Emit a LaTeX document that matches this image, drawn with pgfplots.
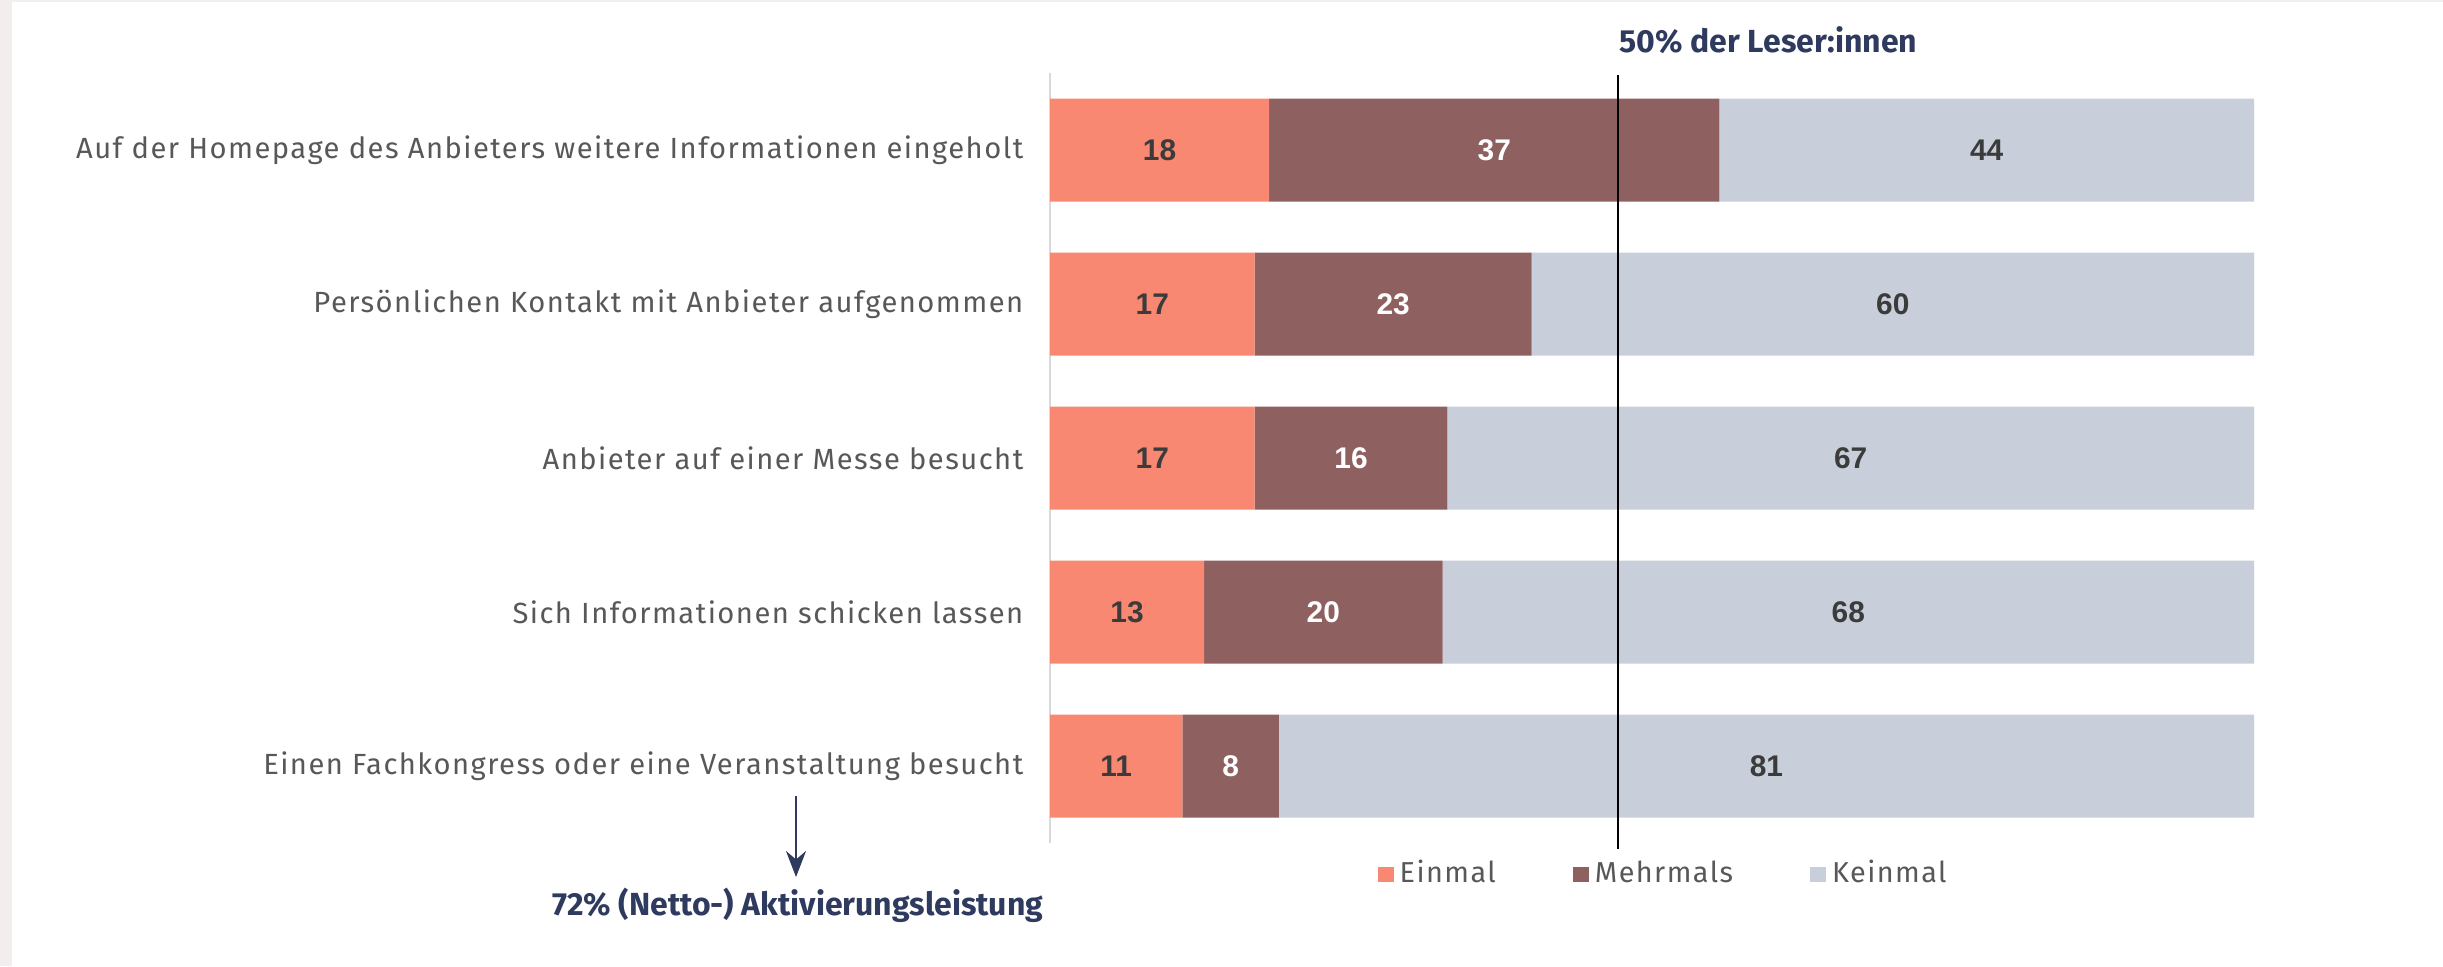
\documentclass[border=0pt]{standalone}
\usepackage{pgfplots}
\pgfplotsset{compat=1.18}
\usepackage{pgfplotstable}
\usetikzlibrary{arrows.meta}
\usepackage{fontspec}
\setmainfont{Fira Sans}
\newfontfamily\labfont[LetterSpace=5]{Fira Sans}
\newfontfamily\numfont{Liberation Sans}
\definecolor{ein}{HTML}{F98872}
\definecolor{mehr}{HTML}{8F6060}
\definecolor{kein}{HTML}{C8CEDA}
\definecolor{txtgray}{HTML}{585858}
\definecolor{navy}{HTML}{2E3A5E}
\definecolor{lbldark}{HTML}{3B3B3B}
\definecolor{axisgray}{HTML}{D9D9D9}
\definecolor{bgstrip}{HTML}{F2EEED}

\pgfplotstableread{
y ein mehr kein lein lmehr lkein
0 18.2 37.4 44.4 18 37 44
1 17 23 60 17 23 60
2 17 16 67 17 16 67
3 12.8 19.8 67.4 13 20 68
4 11 8 81 11 8 81
}\data

\begin{document}
\begin{tikzpicture}
\useasboundingbox (0,0) rectangle (244.3mm,-96.6mm);
\fill[white] (0,0) rectangle (244.3mm,-96.6mm);
\fill[bgstrip] (0,0) rectangle (1.2mm,-96.6mm);
\fill[bgstrip] (0,0) rectangle (244.3mm,-0.2mm);
\begin{axis}[
  at={(105mm,-7.3mm)}, anchor=north west,
  scale only axis, width=120.4mm, height=77mm,
  xbar stacked, bar width=10.3mm,
  xmin=0, xmax=100, ymin=-0.5, ymax=4.5, y dir=reverse,
  axis x line=none, axis y line*=left,
  y axis line style={draw=axisgray, line width=0.2mm, -},
  ytick={0,1,2,3,4},
  yticklabels={Auf der Homepage des Anbieters weitere Informationen eingeholt,
    Persönlichen Kontakt mit Anbieter aufgenommen,
    Anbieter auf einer Messe besucht,
    Sich Informationen schicken lassen,
    Einen Fachkongress oder eine Veranstaltung besucht},
  ytick style={draw=none},
  yticklabel style={anchor=east, inner sep=0pt, xshift=-2.6mm, font=\labfont\fontsize{8.3}{10}\selectfont, text=txtgray},
  clip=false,
  legend style={at={(0.2716,-0.0403)}, anchor=west, draw=none, fill=none, inner sep=0pt,
    font=\labfont\fontsize{8.2}{9}\selectfont, text=txtgray,
    /tikz/every even column/.append style={column sep=7.1mm},
    nodes={inner sep=0.6mm}},
  legend columns=3,
  legend cell align=left,
  legend image code/.code={\fill[#1] (0mm,-0.75mm) rectangle (1.6mm,0.75mm);},
]
\addplot[fill=ein, draw=none] table[x=ein, y=y]{\data};
\addplot[fill=mehr, draw=none] table[x=mehr, y=y]{\data};
\addplot[fill=kein, draw=none] table[x=kein, y=y]{\data};
\legend{Einmal, Mehrmals, Keinmal}
\end{axis}
\begin{axis}[
  at={(105mm,-7.3mm)}, anchor=north west,
  scale only axis, width=120.4mm, height=77mm,
  xmin=0, xmax=100, ymin=-0.5, ymax=4.5, y dir=reverse,
  hide axis, clip=false,
  nodes near coords, point meta=explicit symbolic,
  nodes near coords style={anchor=center, font=\numfont\bfseries\fontsize{8.5}{10}\selectfont},
]
\addplot[draw=none, nodes near coords style={text=lbldark}] table[x expr=\thisrow{ein}/2, y=y, meta=lein]{\data};
\addplot[draw=none, nodes near coords style={text=white}] table[x expr=\thisrow{ein}+\thisrow{mehr}/2, y=y, meta=lmehr]{\data};
\addplot[draw=none, nodes near coords style={text=lbldark}] table[x expr=\thisrow{ein}+\thisrow{mehr}+\thisrow{kein}/2, y=y, meta=lkein]{\data};
\draw[black, line width=0.2mm] (axis cs:47.2,-0.487) -- (axis cs:47.2,4.539);
\end{axis}
\node[anchor=base west, inner sep=0pt, text=navy, font=\bfseries\fontsize{9.1}{11}\selectfont] at (161.9mm,-5.2mm) {50\% der Leser:innen};
\draw[navy, line width=0.25mm, -{Stealth[length=2.6mm,width=2mm]}] (79.6mm,-79.6mm) -- (79.6mm,-87.7mm);
\node[anchor=base east, inner sep=0pt, text=navy, font=\bfseries\fontsize{9.1}{11}\selectfont] at (104.4mm,-91.5mm) {72\% (Netto-) Aktivierungsleistung};
\end{tikzpicture}
\end{document}
